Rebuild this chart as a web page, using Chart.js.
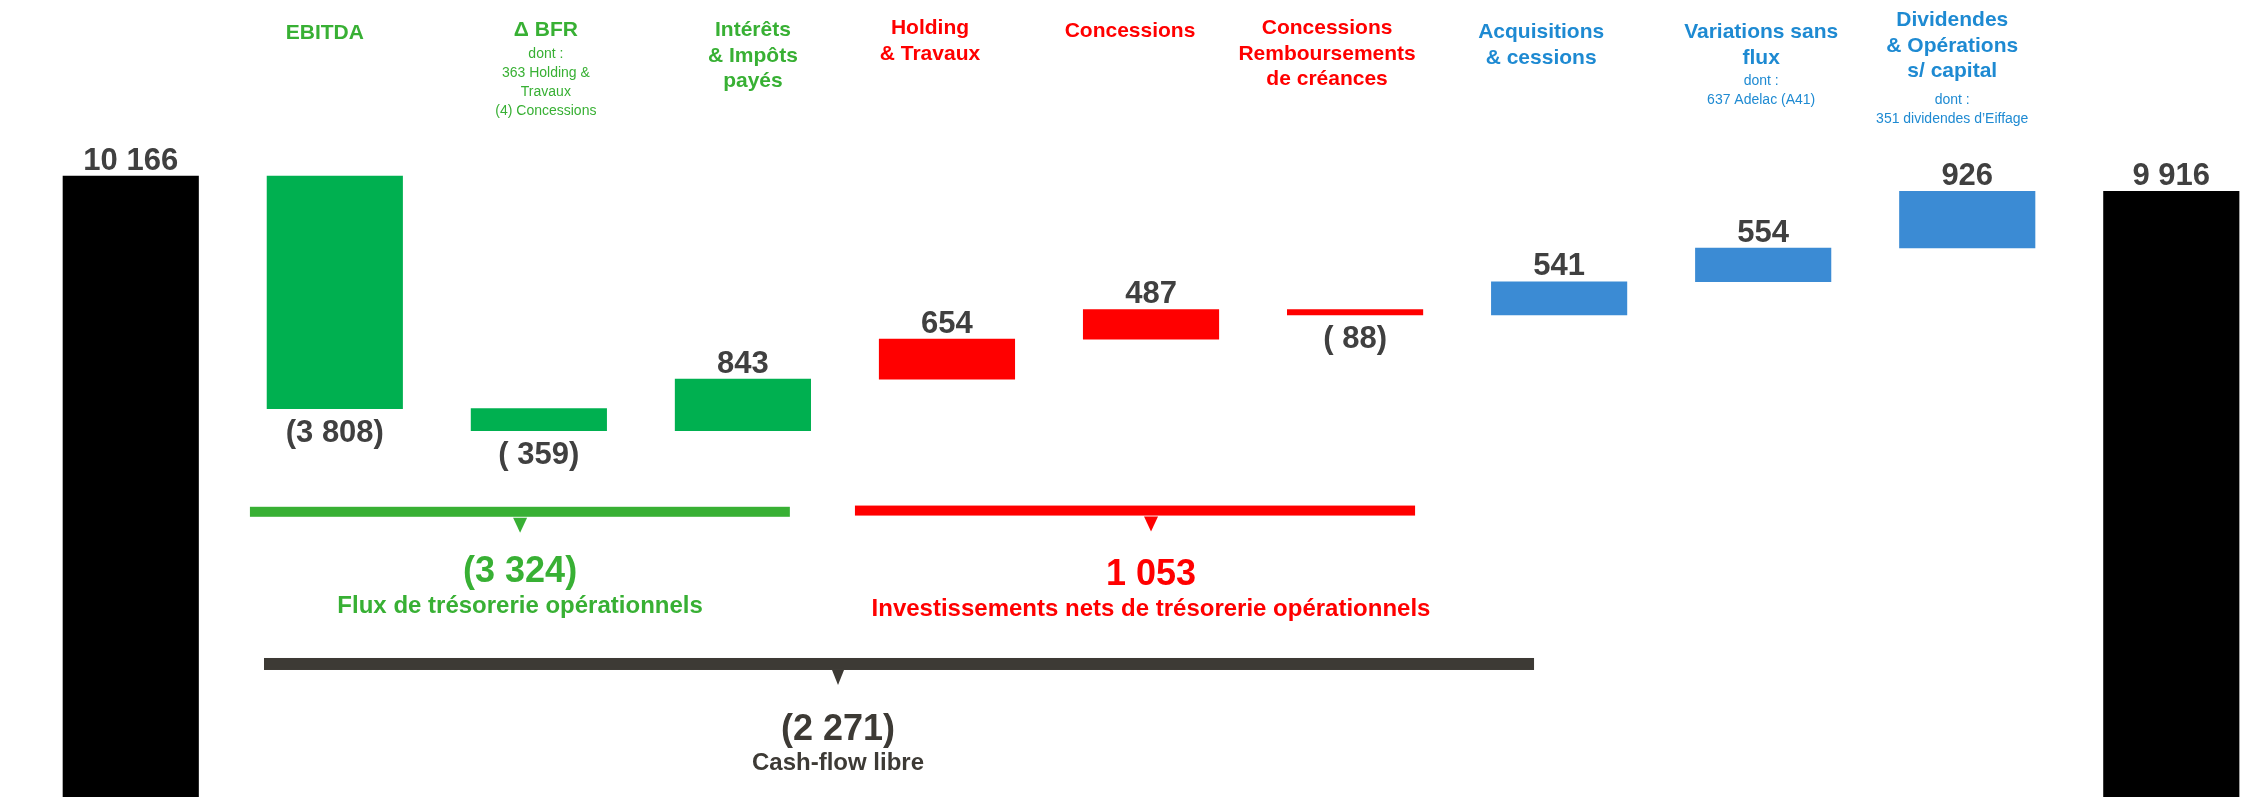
<!DOCTYPE html>
<html lang="fr">
<head>
<meta charset="utf-8">
<title>Variation de l'endettement net</title>
<script src="https://cdn.jsdelivr.net/npm/chart.js@4.4.1/dist/chart.umd.min.js"></script>
<style>
  html, body { margin: 0; padding: 0; background: #fff; }
  #wrap { position: relative; width: 2252px; height: 797px; }
</style>
</head>
<body>
<div id="wrap"><canvas id="waterfall"></canvas></div>
<script>
'use strict';

// Category headers (bold) and small notes under them
const titles = [
    [],
    ['EBITDA'],
    ['Δ BFR'],
    ['Intérêts', '& Impôts', 'payés'],
    ['Holding', '& Travaux'],
    ['Concessions'],
    ['Concessions', 'Remboursements', 'de créances'],
    ['Acquisitions', '& cessions'],
    ['Variations sans', 'flux'],
    ['Dividendes', '& Opérations', 's/ capital'],
    []
];
const notes = [
    [], [],
    ['dont :', '363 Holding &', 'Travaux', '(4) Concessions'],
    [], [], [], [], [],
    ['dont :', '637 Adelac (A41)'],
    ['dont :', '351 dividendes d’Eiffage'],
    []
];
const groups = ['total', 'ops', 'ops', 'ops', 'inv', 'inv', 'inv', 'other', 'other', 'other', 'total'];

const startValue = 10166;
const steps = [-3808, -359, 843, 654, 487, -88, 541, 554, 926];
const endValue = 9916;

const bracketLabels = ['Flux de trésorerie opérationnels', 'Investissements nets de trésorerie opérationnels', 'Cash-flow libre'];
const bracketTotals = [-3324, 1053, -2271];
const bracketGroups = ['ops', 'inv', 'free'];

const BAR_COLORS = { total: '#000000', ops: '#00B050', inv: '#FF0000', other: '#3B8BD4' };
const TEXT_COLORS = { ops: '#38B034', inv: '#FF0000', other: '#1E8AD2', free: '#3D3A35' };
const FONT = "'Liberation Sans', Arial, sans-serif";

const X_MIN = -0.6408;
const X_MAX = 10.3955;
const CHART_WIDTH = 2252;

// layout of the annotations (pixels for text, scale units for brackets)
const layout = {
    titleTop: [0, 31, 28, 28.5, 26.5, 29.5, 26.5, 30.5, 30.5, 18.5, 0],
    titleShift: [0, -10, 7, 10, -17, -21, -28, -18, -2, -15, 0],
    noteTop: [0, 0, 53, 0, 0, 0, 0, 0, 79.5, 98.5, 0],
    brackets: [
        { from: 0.584, to: 3.230, tip: 1.908, level: 4670, thick: 10, gap: 1, tri: 14, totalDy: 57, labelDy: 93 },
        { from: 3.549, to: 6.294, tip: 5.0, level: 4690, thick: 10, gap: 1, tri: 14, totalDy: 61, labelDy: 97 },
        { from: 0.653, to: 6.877, tip: 3.466, level: 2178, thick: 12, gap: 0, tri: 12, totalDy: 63, labelDy: 97 }
    ]
};

function formatValue(v) {
    const s = Math.abs(v).toString().replace(/\B(?=(\d{3})+(?!\d))/g, ' ');
    if (v >= 0) return s;
    return '(' + (Math.abs(v) < 1000 ? ' ' : '') + s + ')';
}

function buildBars() {
    const bars = [{ x: 0, y: [0, startValue] }];
    let level = startValue;
    steps.forEach((step, i) => {
        bars.push({ x: i + 1, y: [level, level + step] });
        level += step;
    });
    bars.push({ x: steps.length + 1, y: [0, endValue] });
    return bars;
}

// text centred on its cap height
function drawText(ctx, text, x, y, size, color, bold) {
    ctx.font = (bold ? 'bold ' : '') + size + 'px ' + FONT;
    ctx.fillStyle = color;
    ctx.textAlign = 'center';
    ctx.textBaseline = 'alphabetic';
    ctx.fillText(text, x, y + size * 0.36);
}

const annotations = {
    id: 'waterfallAnnotations',
    afterDatasetsDraw(chart) {
        const ctx = chart.ctx;
        const x = chart.scales.x;
        const y = chart.scales.y;
        const meta = chart.getDatasetMeta(0);
        const values = [startValue, ...steps, endValue];
        ctx.save();

        // values on bars
        meta.data.forEach((bar, i) => {
            const top = Math.min(bar.y, bar.base);
            const bottom = Math.max(bar.y, bar.base);
            const v = values[i];
            const ty = v < 0 ? bottom + 22 : top - 17.5;
            drawText(ctx, formatValue(v), bar.x, ty, 31, '#404040', true);
        });

        // headers
        titles.forEach((lines, i) => {
            const cx = x.getPixelForValue(i) + layout.titleShift[i];
            const color = TEXT_COLORS[groups[i]];
            lines.forEach((line, k) => {
                drawText(ctx, line, cx, layout.titleTop[i] + k * 25.5, 21, color, true);
            });
            notes[i].forEach((line, k) => {
                drawText(ctx, line, cx, layout.noteTop[i] + k * 19, 14, color, false);
            });
        });

        // brackets with totals
        layout.brackets.forEach((b, i) => {
            const color = TEXT_COLORS[bracketGroups[i]];
            const x1 = x.getPixelForValue(b.from);
            const x2 = x.getPixelForValue(b.to);
            const tx = x.getPixelForValue(b.tip);
            const cy = y.getPixelForValue(b.level);
            ctx.fillStyle = color;
            ctx.fillRect(x1, cy - b.thick / 2, x2 - x1, b.thick);
            const t0 = cy + b.thick / 2 + b.gap;
            ctx.beginPath();
            ctx.moveTo(tx - b.tri / 2, t0);
            ctx.lineTo(tx + b.tri / 2, t0);
            ctx.lineTo(tx, t0 + 15);
            ctx.closePath();
            ctx.fill();
            drawText(ctx, formatValue(bracketTotals[i]), tx, cy + b.totalDy, 36, color, true);
            drawText(ctx, bracketLabels[i], tx, cy + b.labelDy, 24, color, true);
        });

        ctx.restore();
    }
};

const ctx = document.getElementById('waterfall').getContext('2d');
new Chart(ctx, {
    type: 'bar',
    data: {
        datasets: [{
            data: buildBars(),
            backgroundColor: groups.map(g => BAR_COLORS[g]),
            borderWidth: 0,
            // one index step is the bar pitch; bars cover 66% of it
            barThickness: CHART_WIDTH / (X_MAX - X_MIN) * 0.664
        }]
    },
    options: {
        responsive: true,
        maintainAspectRatio: false,
        animation: false,
        layout: { padding: 0 },
        plugins: { legend: { display: false }, tooltip: { enabled: false } },
        scales: {
            x: { type: 'linear', min: X_MIN, max: X_MAX, offset: false, display: false },
            y: { min: 0, max: 13050, display: false }
        }
    },
    plugins: [annotations]
});
</script>
</body>
</html>
